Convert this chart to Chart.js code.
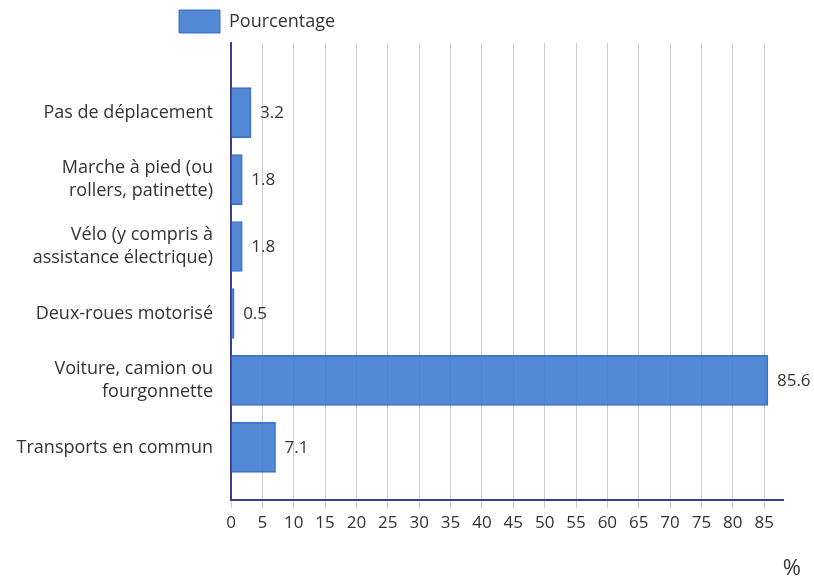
<!DOCTYPE html>
<html>
<head>
<meta charset="utf-8">
<script src="https://cdn.jsdelivr.net/npm/chart.js@4/dist/chart.umd.min.js"></script>
<style>
  body { margin: 0; background: #fff; }
  #wrap { width: 814px; height: 577px; }
</style>
</head>
<body>
<div id="wrap"><canvas id="myBarChart"></canvas></div>
<script>
const categories = [
  'Pas de déplacement',
  ['Marche à pied (ou', 'rollers, patinette)'],
  ['Vélo (y compris à', 'assistance électrique)'],
  'Deux-roues motorisé',
  ['Voiture, camion ou', 'fourgonnette'],
  'Transports en commun'
];
const values = [3.2, 1.8, 1.8, 0.5, 85.6, 7.1];
const xTicks = [0, 5, 10, 15, 20, 25, 30, 35, 40, 45, 50, 55, 60, 65, 70, 75, 80, 85];
const unitLabel = '%';

const ctx = document.getElementById('myBarChart');

// étiquettes de valeur à droite des barres + unité sous l'axe
const valueLabels = {
  id: 'valueLabels',
  afterDatasetsDraw(chart) {
    const c = chart.ctx;
    const meta = chart.getDatasetMeta(0);
    c.save();
    c.font = '17px "Open Sans"';
    c.fillStyle = '#333';
    c.textBaseline = 'middle';
    c.textAlign = 'left';
    meta.data.forEach((bar, i) => {
      c.fillText(values[i], bar.x + 9, bar.y + 1);
    });
    const xs = chart.scales.x;
    c.font = '22px "Open Sans"';
    c.textAlign = 'right';
    c.fillText(unitLabel, xs.right + 18, xs.bottom + 32);
    c.restore();
  }
};

// décale la légende vers la gauche du graphique
const legendShift = {
  id: 'legendShift',
  beforeDraw(chart) {
    chart.legend.left = chart.chartArea.left - 62;
  }
};

const data = {
  datasets: [{
    label: 'Pourcentage',
    data: values.map((v, i) => ({ x: v, y: i })),
    backgroundColor: 'rgba(54, 116, 206, 0.85)',
    borderColor: 'rgba(40, 100, 195, 0.9)',
    borderWidth: 1,
    barThickness: 50
  }]
};

const config = {
  type: 'bar',
  data: data,
  options: {
    indexAxis: 'y',
    responsive: true,
    maintainAspectRatio: false,
    animation: false,
    layout: { padding: { right: 31, bottom: 40 } },
    scales: {
      x: {
        type: 'linear',
        min: 0,
        max: 88,
        afterBuildTicks: (scale) => { scale.ticks = xTicks.map(v => ({ value: v })); },
        grid: { color: '#cccccc', lineWidth: 1, tickLength: 9 },
        border: { display: true, color: '#3b3b99', width: 2 },
        ticks: {
          color: '#333',
          padding: 4,
          font: { family: 'Open Sans', size: 17 }
        }
      },
      y: {
        type: 'linear',
        reverse: true,
        offset: false,
        min: -1.04,
        max: 5.78,
        afterBuildTicks: (scale) => { scale.ticks = categories.map((c, i) => ({ value: i })); },
        afterFit: (scale) => { scale.width = 231; },
        grid: { display: false, drawTicks: false, offset: false },
        border: { display: true, color: '#3b3b99', width: 2 },
        ticks: {
          color: '#333',
          padding: 18,
          font: { family: 'Open Sans', size: 18, lineHeight: 1.28 },
          callback: (v) => categories[v]
        }
      }
    },
    plugins: {
      legend: {
        position: 'top',
        align: 'start',
        labels: {
          color: '#333',
          boxWidth: 41,
          boxHeight: 23,
          padding: 10,
          font: { family: 'Open Sans', size: 18 }
        }
      },
      tooltip: { enabled: false }
    }
  },
  plugins: [valueLabels, legendShift]
};

new Chart(ctx, config);
</script>
</body>
</html>
